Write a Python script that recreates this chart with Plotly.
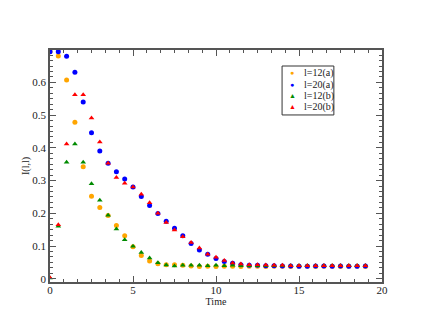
import plotly.graph_objects as go

# time steps (0 .. 19, every 0.5)
time = [0, 0.5, 1, 1.5, 2, 2.5, 3, 3.5, 4, 4.5, 5, 5.5, 6, 6.5, 7, 7.5, 8, 8.5, 9, 9.5,
        10, 10.5, 11, 11.5, 12, 12.5, 13, 13.5, 14, 14.5, 15, 15.5, 16, 16.5, 17, 17.5,
        18, 18.5, 19]

l12_a = [0.694, 0.681, 0.607, 0.478, 0.342, 0.252, 0.218, 0.193, 0.163, 0.131,
         0.098, 0.071, 0.054, 0.046, 0.043, 0.043, 0.041, 0.039, 0.037, 0.038,
         0.037, 0.038, 0.038, 0.037, 0.038, 0.038, 0.037, 0.038, 0.038, 0.037,
         0.038, 0.038, 0.037, 0.038, 0.038, 0.037, 0.038, 0.038, 0.037]
l20_a = [0.694, 0.694, 0.680, 0.631, 0.540, 0.446, 0.390, 0.353, 0.327, 0.305,
         0.280, 0.251, 0.224, 0.199, 0.176, 0.154, 0.131, 0.108, 0.088, 0.075,
         0.062, 0.053, 0.047, 0.043, 0.041, 0.041, 0.040, 0.040, 0.039, 0.039,
         0.038, 0.038, 0.039, 0.039, 0.038, 0.039, 0.038, 0.038, 0.039]
l12_b = [0.002, 0.160, 0.356, 0.412, 0.356, 0.290, 0.240, 0.194, 0.152, 0.119,
         0.099, 0.080, 0.063, 0.049, 0.042, 0.039, 0.041, 0.041, 0.041, 0.040,
         0.041, 0.040, 0.041, 0.040, 0.040, 0.040, 0.040, 0.040, 0.040, 0.040,
         0.040, 0.040, 0.040, 0.040, 0.040, 0.040, 0.040, 0.040, 0.040]
l20_b = [0.003, 0.165, 0.412, 0.562, 0.562, 0.491, 0.418, 0.353, 0.309, 0.292,
         0.280, 0.258, 0.232, 0.200, 0.172, 0.149, 0.128, 0.111, 0.094, 0.075,
         0.066, 0.056, 0.048, 0.045, 0.043, 0.043, 0.042, 0.041, 0.041, 0.040,
         0.040, 0.040, 0.040, 0.040, 0.040, 0.040, 0.040, 0.040, 0.040]

series = [
    ('l=12(a)', l12_a, 'circle', '#ffa500'),
    ('l=20(a)', l20_a, 'circle', '#0000ff'),
    ('l=12(b)', l12_b, 'triangle-up', '#008b00'),
    ('l=20(b)', l20_b, 'triangle-up', '#ff0000'),
]

FONT = 'Liberation Serif, Times New Roman, serif'
AXIS_COLOR = '#555555'
TEXT_COLOR = '#222222'

fig = go.Figure()
for name, vals, sym, col in series:
    fig.add_trace(go.Scatter(x=time, y=vals, name=name, mode='markers', showlegend=False,
                             marker=dict(symbol=sym, color=col, size=5,
                                         line=dict(width=0))))

axis_common = dict(showgrid=False, zeroline=False, showline=True, linecolor=AXIS_COLOR,
                   linewidth=1.5, mirror='allticks', ticks='inside', ticklen=6,
                   tickwidth=1, tickcolor=AXIS_COLOR,
                   tickfont=dict(family=FONT, size=11, color=TEXT_COLOR))

fig.update_xaxes(range=[0, 20], tick0=0, dtick=5, ticklabelstandoff=-3,
                 minor=dict(dtick=5 / 6, ticks='inside', ticklen=3, tickcolor=AXIS_COLOR),
                 title=dict(text='Time', font=dict(family=FONT, size=10, color=TEXT_COLOR),
                            standoff=0),
                 **axis_common)
fig.update_yaxes(range=[-0.01, 0.699], tick0=0, dtick=0.1,
                 minor=dict(dtick=0.1 / 6, ticks='inside', ticklen=3, tickcolor=AXIS_COLOR),
                 title=dict(text='I(l,l)', font=dict(family=FONT, size=10, color=TEXT_COLOR),
                            standoff=0),
                 **axis_common)

# hand-made compact legend (plotly's own legend rows are too tall)
leg_y = [0.901, 0.851, 0.803, 0.755]
fig.add_shape(type='rect', xref='paper', yref='paper', x0=0.699, x1=0.855, y0=0.72, y1=0.931,
              line=dict(color='#333333', width=1), fillcolor='white', layer='below')
for (name, vals, sym, col), yy in zip(series, leg_y):
    glyph = '●' if sym == 'circle' else '▲'
    fig.add_annotation(x=0.729, y=yy, xref='paper', yref='paper', text=glyph, showarrow=False,
                       font=dict(size=7, color=col), xanchor='center', yanchor='middle')
    fig.add_annotation(x=0.760, y=yy, xref='paper', yref='paper', text=name, showarrow=False,
                       font=dict(family=FONT, size=10, color=TEXT_COLOR),
                       xanchor='left', yanchor='middle')

# page body adds an 8px offset, so the figure is 8px smaller and margins shifted
fig.update_layout(
    width=422, height=324,
    margin=dict(l=42, r=48, t=42, b=50),
    plot_bgcolor='white', paper_bgcolor='white',
)

fig.write_html("out.html")
